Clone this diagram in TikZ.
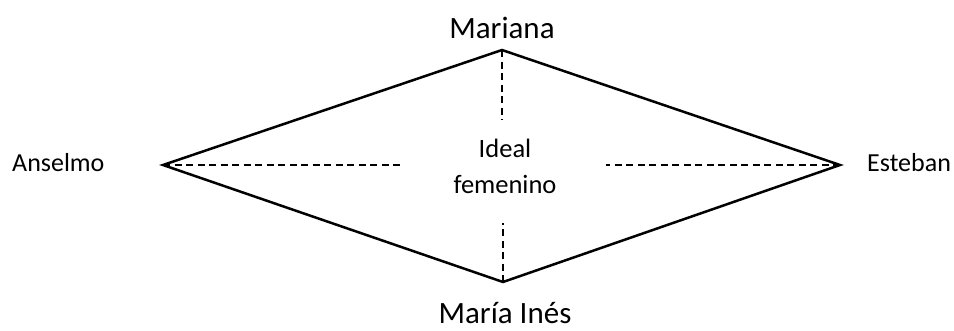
\documentclass[tikz,border=0pt]{standalone}
\usepackage{fontspec}
\setmainfont{Carlito}
\begin{document}
\begin{tikzpicture}[x=1pt,y=-1pt,
  edge/.style={line width=2.5pt,line join=miter},
  spoke/.style={line width=2pt,dash pattern=on 7pt off 4.5pt},
  lbl/.style={inner sep=0pt,font=\fontsize{26}{30}\selectfont},
  biglbl/.style={inner sep=0pt,font=\fontsize{31}{36}\selectfont},
  centerlbl/.style={inner sep=0pt,align=center,font=\fontsize{26.5}{36}\selectfont}]
\useasboundingbox (0,0) rectangle (954,330);
\coordinate (T) at (502,50);
\coordinate (B) at (503,282);
\coordinate (L) at (163,165);
\coordinate (R) at (840,165);
\coordinate (Te) at (502,120);
\coordinate (Be) at (503,223);
\coordinate (Le) at (400,165);
\coordinate (Re) at (606,165);
\draw[edge] (T) -- (R) -- (B) -- (L) -- cycle;
\draw[spoke] (T) -- (Te);
\draw[spoke] (B) -- (Be);
\draw[spoke] (L) -- (Le);
\draw[spoke] (R) -- (Re);
\node[biglbl,anchor=base] (mariana) at (502,38) {Mariana};
\node[biglbl,anchor=base] (maria) at (505,323) {María Inés};
\node[lbl,anchor=base west] (anselmo) at (12,171) {Anselmo};
\node[lbl,anchor=base west] (esteban) at (867,171) {Esteban};
\node[centerlbl,anchor=base] (ideal) at (505,193) {Ideal\\femenino};
\end{tikzpicture}
\end{document}
